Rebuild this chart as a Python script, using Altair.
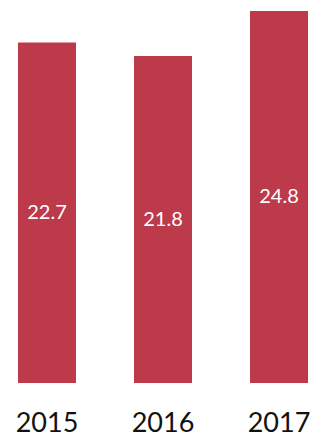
import altair as alt
import pandas as pd

years = ["2015", "2016", "2017"]
values = [22.7, 21.8, 24.8]
labels = ["22.7", "21.8", "24.8"]

df = pd.DataFrame({"year": years, "value": values, "label": labels})

base = alt.Chart(df).encode(
    x=alt.X("year:N", sort=years, title=None,
            scale=alt.Scale(paddingInner=0.5, paddingOuter=0.086),
            axis=alt.Axis(labelAngle=0, domain=False, ticks=False, tickSize=0,
                          labelFont="Lato", labelFontSize=27, labelColor="#111111",
                          labelBaseline="alphabetic", labelPadding=48))
)

bars = base.mark_bar(color="#BD3A4B").encode(
    y=alt.Y("value:Q", scale=alt.Scale(domain=[0, 25], nice=False, zero=True),
            axis=None)
)

text = base.mark_text(color="white", font="Lato", fontSize=20, baseline="middle").encode(
    y=alt.Y("mid:Q", scale=alt.Scale(domain=[0, 25], nice=False, zero=True), axis=None),
    text="label:N"
).transform_calculate(mid="datum.value / 2")

chart = alt.layer(bars, text).properties(
    width=310, height=375,
    autosize=alt.AutoSizeParams(type="none"),
    padding={"left": 0, "top": 0, "right": 0, "bottom": 52}
).configure_view(stroke=None)

chart.save("out.html", embed_options={"renderer": "svg", "actions": False})
